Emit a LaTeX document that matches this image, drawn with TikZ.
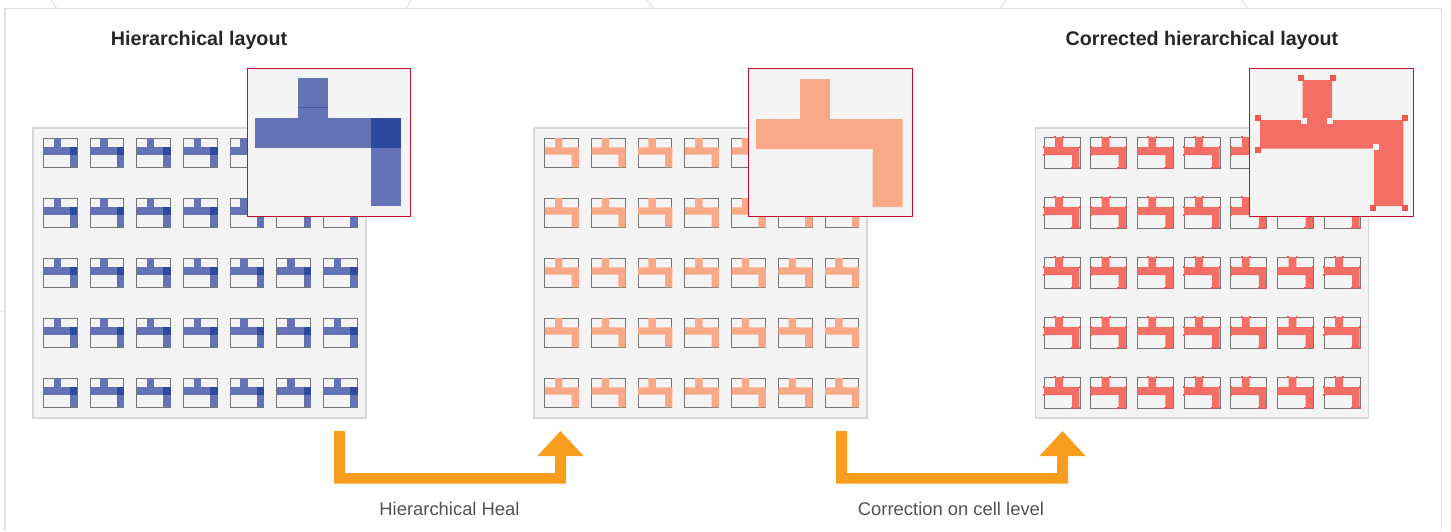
\documentclass[tikz,border=0pt]{standalone}
\usepackage{fontspec}
\setmainfont{Liberation Sans}
\definecolor{framegray}{HTML}{E0E0E0}
\definecolor{panelgray}{HTML}{F4F4F4}
\definecolor{panelline}{HTML}{D8D8D8}
\definecolor{cellline}{HTML}{767676}
\definecolor{insetred}{HTML}{C8102E}
\definecolor{layoutblue}{HTML}{6472B6}
\definecolor{overlapblue}{HTML}{2E4A9E}
\definecolor{healorange}{HTML}{F9A988}
\definecolor{fixred}{HTML}{F36F66}
\definecolor{markred}{HTML}{F4574C}
\definecolor{arrowamber}{HTML}{F99D1F}
\tikzset{
  panelbox/.style={draw=panelline, fill=panelgray, line width=0.6pt},
  insetbox/.style={draw=insetred, fill=panelgray, line width=0.5pt},
  cellbox/.style={draw=cellline, line width=0.5pt},
  titletext/.style={font=\bfseries\fontsize{9.85}{11}\selectfont, text=black!85},
  steptext/.style={font=\fontsize{9.2}{11}\selectfont, text=black!68},
  flowarrow/.style={fill=arrowamber, draw=none},
  markbox/.style={fill=markred, draw=none, minimum size=3pt, inner sep=0pt},
  notchbox/.style={fill=panelgray, draw=none, minimum size=3pt, inner sep=0pt},
}
% one small cell, origin at its top left corner
\newcommand{\bluecell}[2]{
  \draw[cellbox] (#1,#2) rectangle (#1+33.7,#2+29);
  \fill[layoutblue] (#1+10.2,#2) rectangle (#1+17.6,#2+9.4);
  \fill[layoutblue] (#1,#2+9.4) rectangle (#1+34,#2+16.6);
  \fill[layoutblue] (#1+26.6,#2+16.6) rectangle (#1+34,#2+29.4);
  \fill[overlapblue] (#1+26.6,#2+9.4) rectangle (#1+34,#2+16.6);
}
\newcommand{\orangecell}[2]{
  \draw[cellbox] (#1,#2) rectangle (#1+33.7,#2+29);
  \fill[healorange] (#1+10.2,#2) -- (#1+17.6,#2) -- (#1+17.6,#2+9.4) -- (#1+34.2,#2+9.4)
    -- (#1+34.2,#2+29.4) -- (#1+26.8,#2+29.4) -- (#1+26.8,#2+16.7) -- (#1,#2+16.7)
    -- (#1,#2+9.4) -- (#1+10.2,#2+9.4) -- cycle;
}
\newcommand{\redcell}[2]{
  \draw[cellbox] (#1,#2) rectangle (#1+36,#2+31);
  \fill[fixred] (#1+11,#2) -- (#1+18.8,#2) -- (#1+18.8,#2+10.2) -- (#1+35.4,#2+10.2)
    -- (#1+35.4,#2+31) -- (#1+28,#2+31) -- (#1+28,#2+18) -- (#1,#2+18)
    -- (#1,#2+10.2) -- (#1+11,#2+10.2) -- cycle;
  \foreach \mx/\my in {10.8/0,19/0,0/10.2,35.6/10.2,0/18,27.6/31,35.4/31}
    \fill[markred] (#1+\mx-0.9,#2+\my-0.9) rectangle ++(1.8,1.8);
}
\begin{document}
\begin{tikzpicture}[x=0.5pt,y=-0.5pt]
\useasboundingbox (0,0) rectangle (1451,531);
% outer frame
\draw[framegray, line width=0.7pt] (5,531) -- (5,8.5) -- (1441.5,8.5) -- (1441.5,531);
\draw[framegray, line width=0.5pt] (51,0) -- (56.5,8) (411.5,0) -- (406.4,8) (647,0) -- (653,8)
  (1006,0) -- (1000.7,8) (1241.7,0) -- (1247,8) (0,311) -- (5,311);

% titles
\node[titletext] (leftTitle) at (199,40) {Hierarchical layout};
\node[titletext] (rightTitle) at (1202,40) {Corrected hierarchical layout};

% panels:
\node[panelbox, minimum width=166.5pt, minimum height=145pt, inner sep=0pt] (bluePanel) at (199.5,273) {};
\node[panelbox, minimum width=166.5pt, minimum height=145pt, inner sep=0pt] (orangePanel) at (700.5,273) {};
\node[panelbox, minimum width=166.5pt, minimum height=145pt, inner sep=0pt] (redPanel) at (1202,273) {};

% small cells:
\foreach \col in {0,...,6}
  \foreach \row in {0,...,4} {
    \bluecell{43.4+46.7*\col}{138+60*\row}
    \orangecell{544.8+46.7*\col}{138+60*\row}
    \redcell{1044+46.7*\col}{137+60*\row}
  }

% blue inset:
\node[insetbox, minimum width=81.7pt, minimum height=73.8pt, inner sep=0pt] (blueInset) at (329,142.2) {};
\fill[layoutblue] (298.3,78) rectangle (328.3,118.3);
\draw[overlapblue!60!layoutblue, line width=0.3pt] (298.3,107.3) -- (328.3,107.3);
\fill[layoutblue] (254.7,118.3) rectangle (401.3,148);
\fill[layoutblue] (371.3,148) rectangle (401.3,206);
\fill[overlapblue] (371.3,118.3) rectangle (401.3,148);

% orange inset:
\node[insetbox, minimum width=81.8pt, minimum height=73.8pt, inner sep=0pt] (orangeInset) at (830.5,142.2) {};
\fill[healorange] (800,79) -- (830,79) -- (830,119) -- (902.7,119) -- (902.7,207) -- (872.7,207)
  -- (872.7,149) -- (756,149) -- (756,119) -- (800,119) -- cycle;

% red inset:
\node[insetbox, minimum width=82pt, minimum height=73.8pt, inner sep=0pt] (redInset) at (1331,142.2) {};
\fill[fixred] (1302.7,80) -- (1332,80) -- (1332,120) -- (1403.3,120) -- (1403.3,206) -- (1374,206)
  -- (1374,148.7) -- (1260,148.7) -- (1260,120) -- (1302.7,120) -- cycle;
\foreach \mx/\my [count=\mi] in {1301.3/78.3,1333/78.3,1258.3/118,1404.7/118,1258.3/149.7,1373/207.7,1404.7/207.7}
  \node[markbox] (mark\mi) at (\mx,\my) {};
\foreach \nx/\ny [count=\ni] in {1304.3/121,1330/121,1376/147}
  \node[notchbox] (notch\ni) at (\nx,\ny) {};

% flow arrows:
\fill[flowarrow] (334,431) -- (345,431) -- (345,473) -- (555,473) -- (555,456) -- (537.5,456)
  -- (560.5,431) -- (583.5,456) -- (566,456) -- (566,483.5) -- (334,483.5) -- cycle;
\fill[flowarrow] (836,431) -- (847,431) -- (847,473) -- (1057,473) -- (1057,456) -- (1039.5,456)
  -- (1062.5,431) -- (1085.5,456) -- (1068,456) -- (1068,483.5) -- (836,483.5) -- cycle;

% labels:
\node[steptext] (healLabel) at (449.5,508.5) {Hierarchical Heal};
\node[steptext] (cellLabel) at (951,508.5) {Correction on cell level};
\end{tikzpicture}
\end{document}
